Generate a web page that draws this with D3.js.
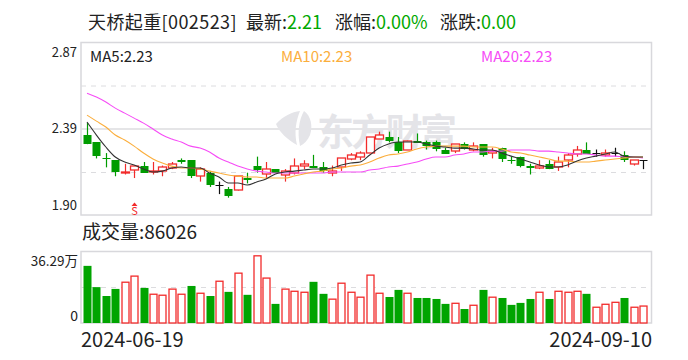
<!DOCTYPE html>
<html>
<head>
<meta charset="utf-8">
<script src="https://cdn.jsdelivr.net/npm/d3@7"></script>
<style>
html, body { margin: 0; padding: 0; background: #fff; }
text { font-family: "Noto Sans CJK SC", "Noto Sans", sans-serif; }
</style>
</head>
<body>
<div id="chart"></div>
<script>
// daily K line, 2024-06-19 .. 2024-09-10
var opens = [2.35,2.31,2.22,2.21,2.14,2.16,2.18,2.145,2.15,2.17,2.21,2.21,2.12,2.14,2.07,2.05,2.04,2.11,2.18,2.13,
	2.16,2.13,2.14,2.18,2.18,2.17,2.14,2.17,2.22,2.23,2.25,2.33,2.34,2.31,2.27,2.32,2.31,2.31,2.27,2.26,
	2.30,2.27,2.30,2.25,2.28,2.21,2.23,2.18,2.17,2.19,2.17,2.21,2.25,2.27,2.25,2.24,2.25,2.24,2.19,2.21];
var closes = [2.30,2.23,2.215,2.14,2.145,2.18,2.14,2.15,2.17,2.19,2.20,2.12,2.16,2.07,2.07,2.01,2.12,2.10,2.16,2.16,
	2.14,2.15,2.18,2.19,2.17,2.15,2.15,2.22,2.24,2.25,2.34,2.35,2.32,2.26,2.32,2.31,2.29,2.27,2.25,2.30,
	2.27,2.29,2.24,2.26,2.22,2.205,2.18,2.17,2.18,2.16,2.20,2.24,2.27,2.25,2.25,2.25,2.25,2.21,2.21,2.21];
var highs = [2.42,2.31,2.25,2.21,2.19,2.18,2.20,2.20,2.18,2.20,2.22,2.21,2.17,2.15,2.09,2.06,2.12,2.14,2.23,2.20,
	2.16,2.16,2.22,2.21,2.24,2.20,2.18,2.22,2.25,2.26,2.34,2.37,2.37,2.34,2.32,2.36,2.32,2.32,2.28,2.30,
	2.31,2.31,2.30,2.28,2.28,2.23,2.23,2.19,2.21,2.21,2.23,2.25,2.29,2.31,2.27,2.27,2.28,2.26,2.21,2.21];
var lows = [2.30,2.22,2.17,2.12,2.13,2.11,2.14,2.13,2.12,2.16,2.19,2.11,2.09,2.06,2.02,2.00,2.04,2.08,2.14,2.11,
	2.14,2.09,2.13,2.16,2.17,2.14,2.12,2.15,2.21,2.21,2.25,2.33,2.31,2.25,2.27,2.31,2.27,2.26,2.25,2.25,
	2.27,2.26,2.23,2.22,2.20,2.19,2.17,2.13,2.16,2.16,2.15,2.17,2.23,2.25,2.23,2.23,2.23,2.20,2.18,2.16];

var ma5 = [2.424,2.351,2.284,2.228,2.200,2.183,2.161,2.144,2.149,2.166,2.172,2.166,2.166,2.138,2.116,2.082,2.082,2.071,2.088,2.105,
	2.133,2.144,2.149,2.155,2.161,2.161,2.166,2.183,2.194,2.200,2.239,2.278,2.301,2.312,2.312,2.312,2.301,2.289,2.284,2.278,
	2.278,2.273,2.267,2.267,2.250,2.233,2.217,2.200,2.183,2.172,2.172,2.183,2.205,2.222,2.233,2.245,2.256,2.233,2.228,2.228];
var ma10 = [2.463,2.429,2.396,2.351,2.323,2.289,2.250,2.217,2.194,2.177,2.166,2.166,2.161,2.149,2.138,2.127,2.121,2.116,2.116,2.110,
	2.110,2.110,2.121,2.133,2.144,2.149,2.161,2.166,2.177,2.183,2.200,2.222,2.239,2.245,2.256,2.273,2.284,2.289,2.289,2.289,
	2.289,2.284,2.284,2.284,2.273,2.256,2.250,2.239,2.228,2.217,2.205,2.205,2.200,2.200,2.205,2.211,2.217,2.222,2.228,2.228];
var ma20 = [2.586,2.564,2.536,2.502,2.474,2.446,2.418,2.385,2.351,2.329,2.312,2.289,2.278,2.256,2.222,2.200,2.177,2.161,2.149,2.144,
	2.138,2.138,2.138,2.138,2.138,2.138,2.144,2.144,2.144,2.144,2.155,2.161,2.172,2.177,2.189,2.200,2.217,2.228,2.228,2.239,
	2.245,2.256,2.256,2.261,2.261,2.267,2.267,2.267,2.261,2.261,2.256,2.250,2.245,2.245,2.239,2.233,2.233,2.228,2.228,2.222];

// 万手
var volumes = [29.0,18.2,13.7,17.3,20.7,23.8,17.8,14.6,14.1,17.2,14.6,18.8,15.1,13.7,21.2,15.8,25.3,14.3,34.1,22.8,
	9.7,17.2,16.1,15.6,20.9,14.8,12.1,20.2,15.6,13.1,24.3,15.1,13.2,16.8,15.1,12.7,12.7,12.2,9.7,10.0,
	7.1,9.0,16.8,13.1,12.7,9.2,10.2,12.2,15.6,12.2,16.1,15.6,16.1,14.8,8.0,9.5,10.5,12.7,8.0,8.6];
var volumeUp = [0,0,0,0,1,1,0,1,1,1,1,0,1,0,1,0,1,0,1,1,
	0,1,1,1,0,0,1,1,1,1,1,1,0,0,1,0,0,0,0,1,
	0,1,0,1,0,0,0,0,1,0,1,1,1,0,1,1,1,0,1,1];

var priceTicks = [2.87, 2.39, 1.90];
var volumeMax = 36.29;
var dateLabels = ["2024-06-19", "2024-09-10"];

var RED = "#f22b2b", GREEN = "#009c00", VOLGREEN = "#00a400";
var width = 688, height = 360;
var left = 81, right = 651.5;

var svg = d3.select("#chart").append("svg").attr("width", width).attr("height", height)
	.style("display", "block");

var x = d3.scaleBand().domain(d3.range(opens.length)).range([82.3, 647.7]);
var yPrice = d3.scaleLinear().domain([1.90, 2.87]).range([215.5, 42.5]);
var yVol = d3.scaleLinear().domain([0, volumeMax]).range([323, 251.5]);

function cx(i){
	return Math.round(x(i) + x.bandwidth() / 2);
}

// title row
var title = svg.append("text").attr("y", 29).attr("font-size", 18).attr("fill", "#222");
title.append("tspan").attr("x", 88).attr("letter-spacing", 0.4).text("天桥起重[002523]");
title.append("tspan").attr("x", 246).text("最新:");
title.append("tspan").attr("x", 287).attr("fill", "#00a800").text("2.21");
title.append("tspan").attr("x", 335).text("涨幅:");
title.append("tspan").attr("x", 376).attr("fill", "#00a800").text("0.00%");
title.append("tspan").attr("x", 440).text("涨跌:");
title.append("tspan").attr("x", 481).attr("fill", "#00a800").text("0.00");

// frames and grid
function frame(top, bottom){
	svg.append("rect").attr("x", left).attr("y", top)
		.attr("width", right - left).attr("height", bottom - top)
		.attr("fill", "none").attr("stroke", "#d8d8dc").attr("stroke-width", 1.5);
}
frame(42.5, 215);
frame(251.5, 323);

svg.append("line").attr("x1", left).attr("x2", right).attr("y1", 129).attr("y2", 129)
	.attr("stroke", "#dcdcdf").attr("stroke-width", 1.5);
[86, 172.5].forEach(function(d){
	svg.append("line").attr("x1", left).attr("x2", right).attr("y1", d).attr("y2", d)
		.attr("stroke", "#dcdcdf").attr("stroke-dasharray", "5,5");
});
svg.append("line").attr("x1", left).attr("x2", right).attr("y1", 287.5).attr("y2", 287.5)
	.attr("stroke", "#dcdcdf").attr("stroke-dasharray", "5,5");

// watermark
var mark = svg.append("g").attr("fill", "#e4e4e8");
mark.append("path").attr("d", "M276 124 C283 116 292 112 300 111 C296 121 294 132 297 145 C288 140 279 132 276 124 Z");
mark.append("path").attr("d", "M300 146 C297 132 299 120 304 111 C311 116 313 126 310 135 C308 140 304 144 300 146 Z");
mark.append("text").attr("x", 317).attr("y", 146).attr("font-size", 37).attr("font-weight", 700)
	.attr("textLength", 140).text("东方财富");

// price labels
var priceLabelY = [57, 133, 210];
svg.selectAll(".pl").data(priceTicks).enter().append("text").attr("class", "pl")
	.attr("x", 77).attr("y", function(d, i){return priceLabelY[i];})
	.attr("text-anchor", "end").attr("font-size", 13).attr("fill", "#222")
	.text(function(d){return d.toFixed(2);});

// MA legend
svg.append("text").attr("x", 90).attr("y", 62).attr("font-size", 15).attr("fill", "#222").text("MA5:2.23");
svg.append("text").attr("x", 281).attr("y", 62).attr("font-size", 15).attr("fill", "#fbae3c").text("MA10:2.23");
svg.append("text").attr("x", 481).attr("y", 62).attr("font-size", 15).attr("fill", "#f64cf6").text("MA20:2.23");

// candles
var idx = d3.range(opens.length);
function candleColor(i){
	if (opens[i] === closes[i]) return "#111";
	return closes[i] > opens[i] ? RED : GREEN;
}
svg.selectAll(".wick").data(idx).enter().append("line").attr("class", "wick")
	.attr("x1", function(i){return cx(i) + 0.5;})
	.attr("x2", function(i){return cx(i) + 0.5;})
	.attr("y1", function(i){return yPrice(highs[i]);})
	.attr("y2", function(i){return yPrice(lows[i]);})
	.attr("stroke", candleColor).attr("stroke-width", 1.2);

svg.selectAll(".body").data(idx).enter().append("rect").attr("class", "body")
	.attr("x", function(i){return cx(i) - 3.5;})
	.attr("width", 8)
	.attr("y", function(i){return Math.round(yPrice(Math.max(opens[i], closes[i])));})
	.attr("height", function(i){
		return Math.max(1, Math.round(Math.abs(yPrice(opens[i]) - yPrice(closes[i]))));
	})
	.attr("fill", function(i){
		if (opens[i] === closes[i]) return "#111";
		return closes[i] > opens[i] ? "#fff" : GREEN;
	})
	.attr("stroke", function(i){return closes[i] > opens[i] ? RED : "none";})
	.attr("stroke-width", 1.3);

// moving averages
var line = function(values){
	return d3.line().x(function(d, i){return x(i) + x.bandwidth() / 2;})
		.y(function(d){return yPrice(d);}).curve(d3.curveMonotoneX)(values);
};
[[ma20, "#f64cf6"], [ma10, "#fbae3c"], [ma5, "#333"]].forEach(function(s){
	svg.append("path").attr("d", line(s[0])).attr("fill", "none")
		.attr("stroke", s[1]).attr("stroke-width", 1.1);
});

// S marker
var sig = svg.append("g").attr("fill", RED);
sig.append("path").attr("d", "M" + (cx(5) + 0.5) + " 202.5 l3 3.5 h-6 Z");
sig.append("text").attr("x", cx(5) + 0.5).attr("y", 215).attr("text-anchor", "middle")
	.attr("font-size", 11).text("S");

// volume
svg.append("text").attr("x", 82).attr("y", 239).attr("font-size", 19).attr("fill", "#222").text("成交量:86026");
svg.append("text").attr("x", 78).attr("y", 266).attr("text-anchor", "end").attr("font-size", 13.5).attr("fill", "#222").text("36.29万");
svg.append("text").attr("x", 78).attr("y", 321).attr("text-anchor", "end").attr("font-size", 14).attr("fill", "#222").text("0");

svg.selectAll(".vol").data(idx).enter().append("rect").attr("class", "vol")
	.attr("x", function(i){return volumeUp[i] ? cx(i) - 3 : cx(i) - 3.5;})
	.attr("width", function(i){return volumeUp[i] ? 7 : 8;})
	.attr("y", function(i){return yVol(volumes[i]);})
	.attr("height", function(i){return 323 - yVol(volumes[i]);})
	.attr("fill", function(i){return volumeUp[i] ? "#fff" : VOLGREEN;})
	.attr("stroke", function(i){return volumeUp[i] ? RED : "none";})
	.attr("stroke-width", 1.3);

// dates
svg.append("text").attr("x", 81).attr("y", 347).attr("font-size", 20).attr("fill", "#222").text(dateLabels[0]);
svg.append("text").attr("x", 652).attr("y", 347).attr("text-anchor", "end").attr("font-size", 20).attr("fill", "#222").text(dateLabels[1]);
</script>
</body>
</html>
